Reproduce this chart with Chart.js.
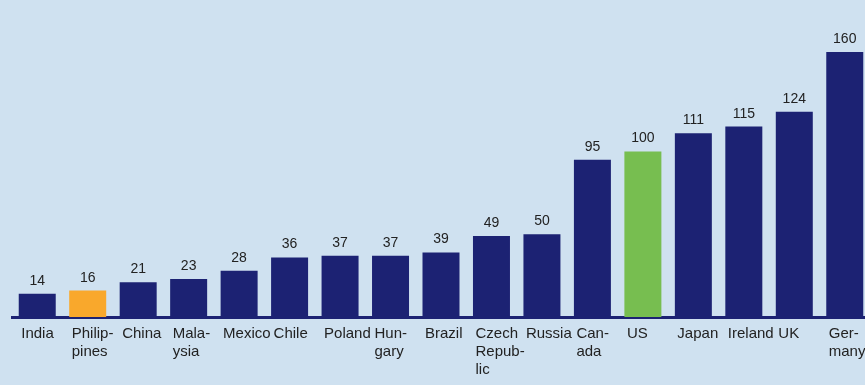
<!DOCTYPE html>
<html>
<head>
<meta charset="utf-8">
<title>Country comparison (US = 100)</title>
<script src="https://cdn.jsdelivr.net/npm/chart.js@4/dist/chart.umd.min.js"></script>
<style>
    html, body { margin: 0; padding: 0; background: #cfe1f0; overflow: hidden; }
    .chart-wrap { position: relative; width: 870px; height: 385px; }
</style>
</head>
<body>
<div class="chart-wrap">
    <canvas id="countryChart"></canvas>
</div>
<script>
// Countries, in display order (hyphenated where the label wraps)
const countries = [
    'India', ['Philip-', 'pines'], 'China', ['Mala-', 'ysia'], 'Mexico', 'Chile',
    'Poland', ['Hun-', 'gary'], 'Brazil', ['Czech', 'Repub-', 'lic'], 'Russia',
    ['Can-', 'ada'], 'US', 'Japan', 'Ireland', 'UK', ['Ger-', 'many']
];

// Index values, US = 100
const indexValues = [14, 16, 21, 23, 28, 36, 37, 37, 39, 49, 50, 95, 100, 111, 115, 124, 160];

const NAVY = '#1c2273';
const ORANGE = '#f9a82c';
const GREEN = '#77be50';
const TEXT = '#222222';

// Highlighted bars
const barColors = {
    'Philip-': ORANGE,
    'US': GREEN
};

document.addEventListener('DOMContentLoaded', function() {
    initializeCountryChart();
});

function getBarColor(label) {
    const key = Array.isArray(label) ? label[0] : label;
    return barColors[key] || NAVY;
}

// Draws the value above each bar
const valueLabelsPlugin = {
    id: 'valueLabels',
    afterDatasetsDraw(chart) {
        const ctx = chart.ctx;
        const meta = chart.getDatasetMeta(0);
        ctx.save();
        ctx.font = '14px "Liberation Sans", Arial, sans-serif';
        ctx.fillStyle = TEXT;
        ctx.textAlign = 'center';
        ctx.textBaseline = 'alphabetic';
        meta.data.forEach((bar, i) => {
            ctx.fillText(String(indexValues[i]), bar.x, bar.y - 9);
        });
        ctx.restore();
    }
};

function initializeCountryChart() {
    const ctx = document.getElementById('countryChart');
    if (!ctx) return;

    new Chart(ctx, {
        type: 'bar',
        data: {
            labels: countries,
            datasets: [{
                data: indexValues,
                backgroundColor: countries.map(getBarColor),
                borderWidth: 0,
                categoryPercentage: 1,
                barPercentage: 0.733
            }]
        },
        options: {
            responsive: true,
            maintainAspectRatio: false,
            animation: false,
            layout: { padding: { left: 12, right: 0, top: 19, bottom: 0 } },
            plugins: {
                legend: { display: false },
                tooltip: { enabled: false }
            },
            scales: {
                x: {
                    grid: { display: false, drawTicks: false },
                    border: { display: true, color: NAVY, width: 3 },
                    afterFit: function(axis) {
                        // labels may run past the edge; don't shrink the plot for them
                        axis.height = 68;
                        axis.paddingLeft = 0;
                        axis.paddingRight = 0;
                    },
                    ticks: {
                        autoSkip: false,
                        maxRotation: 0,
                        minRotation: 0,
                        align: 'start',
                        labelOffset: -16,
                        padding: 8,
                        color: TEXT,
                        font: { family: '"Liberation Sans", Arial, sans-serif', size: 15, lineHeight: 1.2 }
                    }
                },
                y: {
                    display: false,
                    min: 0,
                    max: 180
                }
            }
        },
        plugins: [valueLabelsPlugin]
    });
}
</script>
</body>
</html>
